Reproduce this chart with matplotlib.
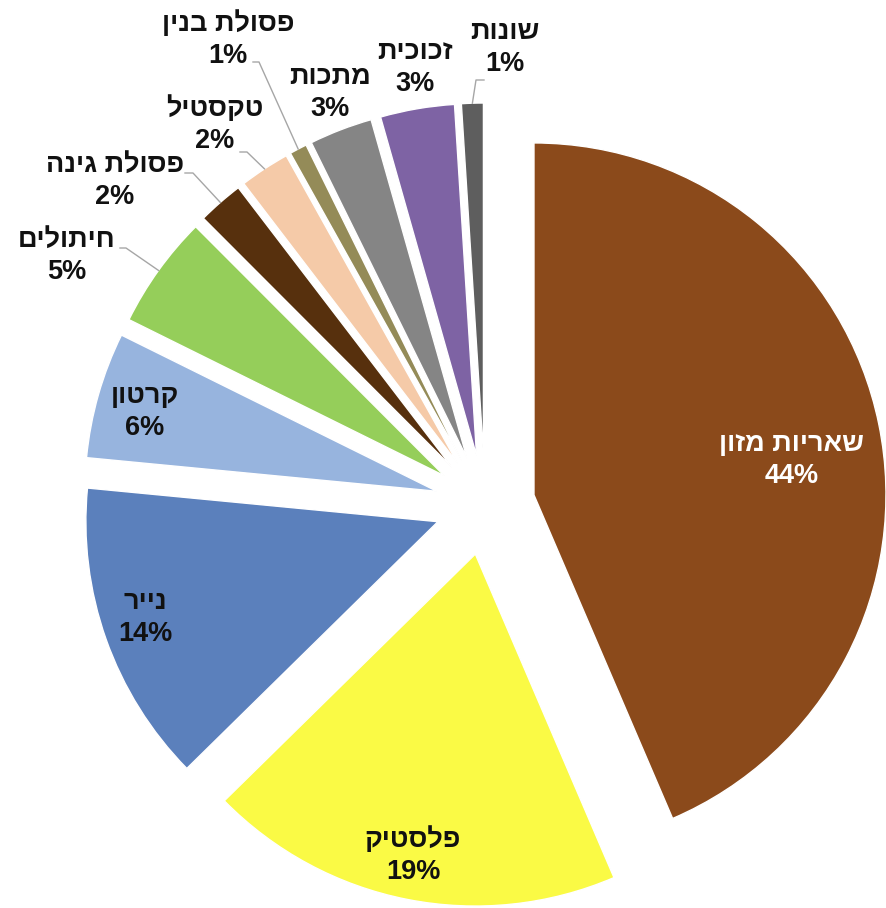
import numpy as np
import matplotlib.pyplot as plt

categories = ['שאריות מזון', 'פלסטיק', 'נייר', 'קרטון', 'חיתולים', 'פסולת גינה',
              'טקסטיל', 'פסולת בנין', 'מתכות', 'זכוכית', 'שונות']
shares = [43.6, 19.1, 13.9, 5.8, 5.2, 2.1, 2.3, 0.8, 2.9, 3.4, 1.0]
colors = ['#8B4A1B', '#FAFA45', '#5B80BC', '#97B4DE', '#95CE5A', '#57300D',
          '#F5CAA8', '#948B58', '#858585', '#7E63A4', '#5E5E5E']

W, H = 887, 908
plt.rcParams['font.family'] = ['Liberation Sans', 'DejaVu Sans']

fig = plt.figure(figsize=(W / 100, H / 100), dpi=100)
ax = fig.add_axes([0, 0, 1, 1])

# pie geometry in pixel units (y up)
cx, cy, R, gap = 485, H - 505, 352, 50
wedges, _ = ax.pie(shares, colors=colors, startangle=90, counterclock=False,
                   center=(cx, cy), radius=R, explode=[gap] * len(shares),
                   wedgeprops=dict(edgecolor='white', linewidth=1))
ax.set_xlim(0, W)
ax.set_ylim(0, H)
ax.set_aspect('equal')
ax.axis('off')


def rtl(s):
    return s[::-1]


# label block centres, image coords (x, y from top)
label_pos = [(792, 460), (413, 856), (145, 618), (145, 412), (67, 256), (115, 181),
             (215, 125), (228, 40), (330, 93), (415, 68), (505, 48)]
# leader start points for the small outside labels
leaders = {4: (120, 248, 126), 5: (185, 173, 193), 6: (240, 152, 247),
           7: (253, 62, 259), 10: (484, 80, 476)}

for i, (cat, v) in enumerate(zip(categories, shares)):
    x, y = label_pos[i]
    col = 'white' if i == 0 else '#111111'
    ax.text(x, H - y, f"{rtl(cat)}\n{round(v)}%", ha='center', va='center',
            multialignment='center', fontsize=19.5, fontweight='bold', color=col,
            linespacing=1.3)
    if i in leaders:
        w = wedges[i]
        mid = np.deg2rad((w.theta1 + w.theta2) / 2)
        ex = w.center[0] + R * np.cos(mid)
        ey = w.center[1] + R * np.sin(mid)
        x0, y0, x1 = leaders[i]
        ax.plot([x0, x1, ex], [H - y0, H - y0, ey], color='#A6A6A6', lw=1)

fig.savefig('out.png', dpi=100)
